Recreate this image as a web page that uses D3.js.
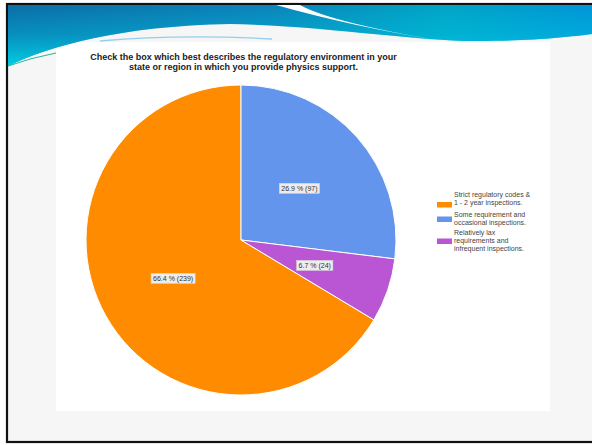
<!DOCTYPE html>
<html>
<head>
<meta charset="utf-8">
<script src="https://cdn.jsdelivr.net/npm/d3@7"></script>
<style>
  html, body { margin: 0; padding: 0; background: #ffffff; }
  svg { display: block; font-family: "Liberation Sans", Arial, sans-serif; }
</style>
</head>
<body>
<svg id="slide" width="592" height="445"></svg>
<script>
// Survey responses: regulatory environment
const categories = [
  "Strict regulatory codes & 1 - 2 year inspections.",
  "Some requirement and occasional inspections.",
  "Relatively lax requirements and infrequent inspections."
];
const legendLines = [
  ["Strict regulatory codes &", "1 - 2 year inspections."],
  ["Some requirement and", "occasional inspections."],
  ["Relatively lax", "requirements and", "infrequent inspections."]
];
const counts = [239, 97, 24];
const percents = [66.4, 26.9, 6.7];
const colors = ["#ff8c00", "#6495ed", "#ba55d3"];
const titleLines = [
  "Check the box which best describes the regulatory environment in your",
  "state or region in which you provide physics support."
];

const svg = d3.select("#slide");
const defs = svg.append("defs");

// ---- slide frame and background ----
svg.append("rect").attr("x", 7).attr("y", 4).attr("width", 600).attr("height", 438)
  .attr("fill", "#f6f6f6").attr("stroke", "#111").attr("stroke-width", 2.2);

// header band gradients
const gH = defs.append("linearGradient").attr("id", "bandH")
  .attr("x1", 0).attr("y1", 0).attr("x2", 1).attr("y2", 0);
gH.append("stop").attr("offset", 0).attr("stop-color", "#0a70a8");
gH.append("stop").attr("offset", 0.45).attr("stop-color", "#0a86bb");
gH.append("stop").attr("offset", 0.75).attr("stop-color", "#00a6c6");
gH.append("stop").attr("offset", 1).attr("stop-color", "#0096d8");

const gV = defs.append("linearGradient").attr("id", "bandV")
  .attr("gradientUnits", "userSpaceOnUse")
  .attr("x1", 0).attr("y1", 8).attr("x2", 0).attr("y2", 66);
gV.append("stop").attr("offset", 0).attr("stop-color", "#00d0e8").attr("stop-opacity", 0);
gV.append("stop").attr("offset", 0.45).attr("stop-color", "#00c8e4").attr("stop-opacity", 0.35);
gV.append("stop").attr("offset", 1).attr("stop-color", "#00d4e8").attr("stop-opacity", 0.95);

// white chart panel
svg.append("rect").attr("x", 56).attr("y", 42).attr("width", 494).attr("height", 369)
  .attr("fill", "#ffffff");

const bandPath = "M8,5 H592 V34 C570,37 530,41 480,41 C420,42 330,26 230,24 " +
  "C120,26 50,46 8,66 Z";
svg.append("path").attr("d", bandPath).attr("fill", "url(#bandH)");
svg.append("path").attr("d", bandPath).attr("fill", "url(#bandV)");

// white swoosh across the band
svg.append("path")
  .attr("d", "M276,5 L300,5 Q330,22 442,41 Q350,26 276,5 Z")
  .attr("fill", "#ffffff");

// thin accent streaks
svg.append("path").attr("d", "M100,41 Q180,34 272,39")
  .attr("fill", "none").attr("stroke", "#7cc4e8").attr("stroke-width", 1.3).attr("opacity", 0.8);
svg.append("path").attr("d", "M8,66 Q30,58 56,53")
  .attr("fill", "none").attr("stroke", "#20b89c").attr("stroke-width", 1);

// redraw top border over the band
svg.append("line").attr("x1", 6).attr("x2", 592).attr("y1", 4).attr("y2", 4)
  .attr("stroke", "#111").attr("stroke-width", 2.2);

// ---- title ----
svg.append("g").selectAll("text").data(titleLines).join("text")
  .attr("x", 243.5).attr("y", (d, i) => 59.5 + i * 10.5)
  .attr("text-anchor", "middle")
  .attr("font-size", "9px").attr("font-weight", "bold").attr("fill", "#222")
  .text(d => d);

// ---- pie ----
const cx = 241, cy = 240, R = 155;
const total = d3.sum(counts);
// the first slice ends exactly at 12 o'clock so the second starts there
const start = 2 * Math.PI * (1 - counts[0] / total);
const pie = d3.pie().sort(null).value(d => d)
  .startAngle(start).endAngle(start + 2 * Math.PI);
const arcs = pie(counts);
const arc = d3.arc().innerRadius(0).outerRadius(R);
const labelArc = d3.arc().innerRadius(78).outerRadius(78);

const gPie = svg.append("g").attr("transform", `translate(${cx},${cy})`);
gPie.selectAll("path").data(arcs).join("path")
  .attr("d", arc)
  .attr("fill", (d, i) => colors[i])
  .attr("stroke", "#ffffff").attr("stroke-width", 1);

const labels = gPie.selectAll("g.lbl").data(arcs).join("g").attr("class", "lbl")
  .attr("transform", d => `translate(${labelArc.centroid(d)})`);
labels.each(function (d, i) {
  const g = d3.select(this);
  const t = g.append("text")
    .attr("text-anchor", "middle").attr("dy", "0.35em")
    .attr("font-size", "7px").attr("fill", "#333")
    .text(`${percents[i]} % (${counts[i]})`);
  const w = t.node().getComputedTextLength();
  g.insert("rect", "text")
    .attr("x", -w / 2 - 2).attr("y", -5).attr("width", w + 4).attr("height", 10)
    .attr("fill", "#ececec").attr("stroke", "#d8d8d8").attr("stroke-width", 0.5);
});

// ---- legend ----
const legendTextY = [197, 216.5, 235];   // first baseline of each entry
const legendKeyY = [202, 216.5, 238.5];   // top of each colour key
const gLeg = svg.append("g");
categories.forEach((c, i) => {
  gLeg.append("rect").attr("x", 437).attr("y", legendKeyY[i]).attr("width", 15).attr("height", 5.5)
    .attr("fill", colors[i]);
  legendLines[i].forEach((ln, j) => {
    gLeg.append("text")
      .attr("x", 454).attr("y", legendTextY[i] + j * 8)
      .attr("font-size", "7px").attr("fill", "#444")
      .text(ln);
  });
});
</script>
</body>
</html>
